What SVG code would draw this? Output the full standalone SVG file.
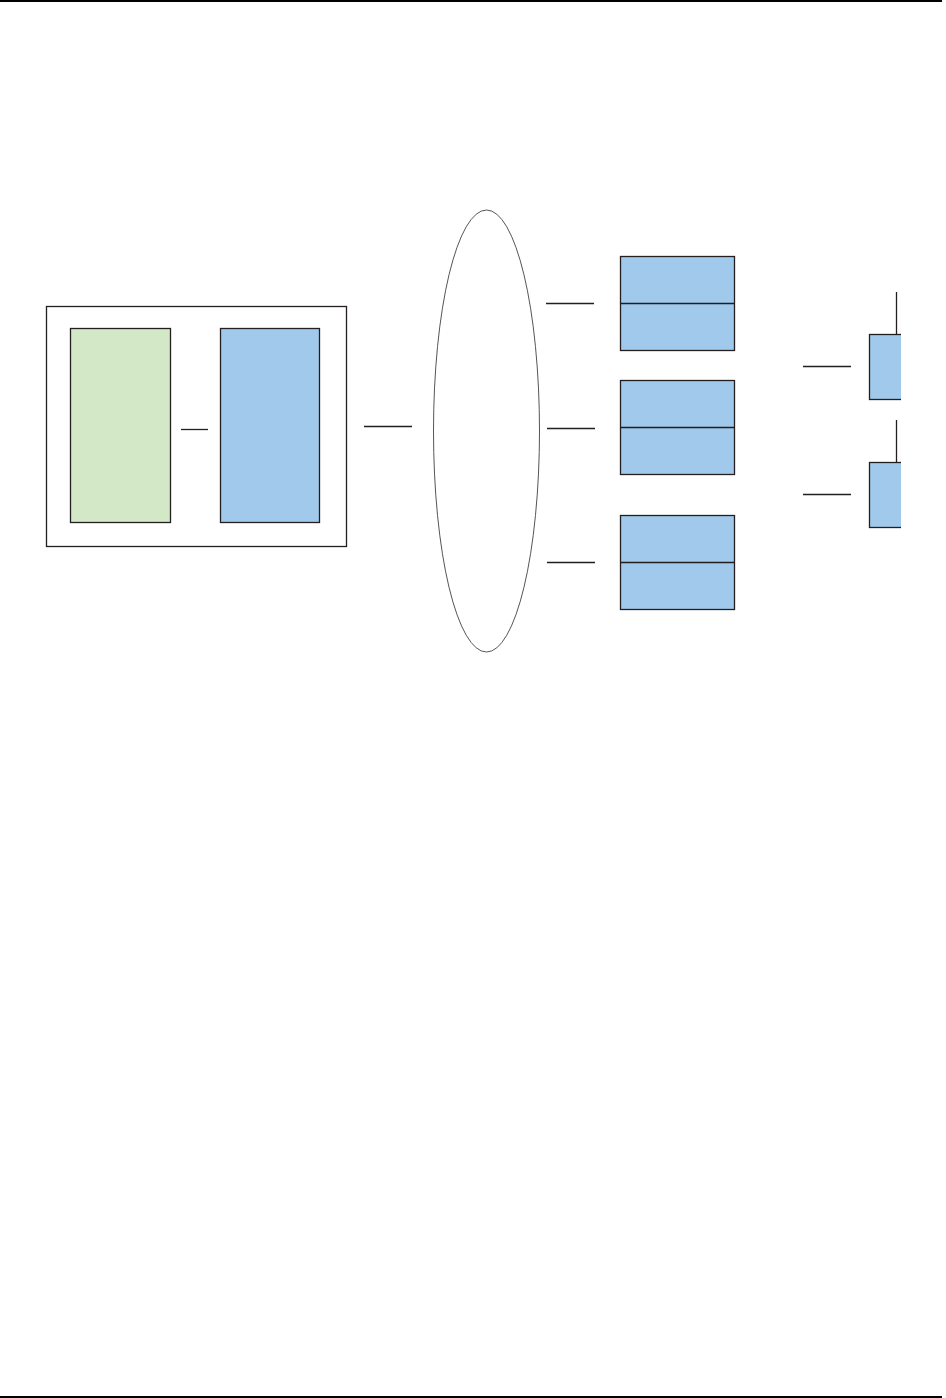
<svg xmlns="http://www.w3.org/2000/svg" width="946" height="1398" viewBox="0 0 946 1398">
<style>
.ln{stroke:#231f20;stroke-width:1.3;fill:none}
.bx{stroke:#231f20;stroke-width:1.3}
.blue{fill:#a0c9eb}
.green{fill:#d2e8c7}
</style>
<defs>
<clipPath id="clipR"><rect x="0" y="0" width="901" height="1398"/></clipPath>
</defs>
<rect x="0" y="0" width="942" height="2" fill="#000"/>
<rect x="0" y="1396" width="942" height="2" fill="#000"/>
<g id="container"><rect class="bx" x="46.5" y="306.5" width="300" height="240" fill="#fff"/></g>
<g id="green-box"><rect class="bx green" x="70.5" y="328.5" width="100" height="194"/></g>
<g id="blue-box"><rect class="bx blue" x="220.5" y="328.5" width="99" height="194"/></g>
<g id="cloud"><ellipse cx="486.5" cy="431" rx="53" ry="221" fill="none" stroke="#555" stroke-width="1"/></g>
<g id="stack1"><rect class="bx blue" x="620.5" y="256.5" width="114" height="94"/><line class="ln" x1="620.5" y1="303.5" x2="734.5" y2="303.5"/></g>
<g id="stack2"><rect class="bx blue" x="620.5" y="380.5" width="114" height="94"/><line class="ln" x1="620.5" y1="427.5" x2="734.5" y2="427.5"/></g>
<g id="stack3"><rect class="bx blue" x="620.5" y="515.5" width="114" height="94"/><line class="ln" x1="620.5" y1="562.5" x2="734.5" y2="562.5"/></g>
<g id="device1" clip-path="url(#clipR)"><rect class="bx blue" x="869.5" y="334.5" width="60" height="65"/></g>
<g id="device2" clip-path="url(#clipR)"><rect class="bx blue" x="869.5" y="462.5" width="60" height="65"/></g>
<g id="connectors">
<line class="ln" x1="181" y1="429.5" x2="208" y2="429.5"/>
<line class="ln" x1="364" y1="426.5" x2="412" y2="426.5"/>
<line class="ln" x1="546" y1="303.5" x2="594" y2="303.5"/>
<line class="ln" x1="547" y1="428.5" x2="595" y2="428.5"/>
<line class="ln" x1="547" y1="562.5" x2="595" y2="562.5"/>
<line class="ln" x1="803" y1="366.5" x2="851" y2="366.5"/>
<line class="ln" x1="803" y1="494.5" x2="851" y2="494.5"/>
<line class="ln" x1="896.5" y1="292" x2="896.5" y2="334.5"/>
<line class="ln" x1="896.5" y1="420" x2="896.5" y2="462.5"/>
</g>
</svg>
